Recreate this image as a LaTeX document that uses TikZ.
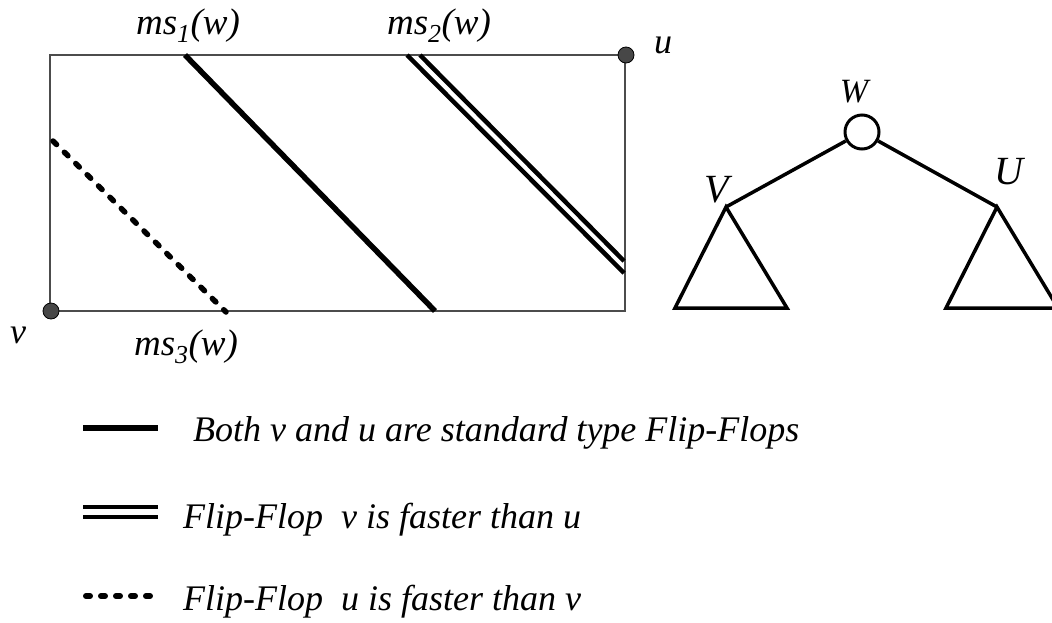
\documentclass[tikz,border=0pt]{standalone}
\usepackage{fontspec}
\setmainfont{Liberation Serif}
\begin{document}
\begin{tikzpicture}[x=1pt,y=-1pt,
  frame/.style={draw=black!70,line width=1.5},
  thickline/.style={line width=5.5},
  dblline/.style={line width=4.5},
  dotline/.style={line width=5.5,line cap=round,dash pattern=on 5 off 11},
  treeline/.style={line width=3.5},
  dotmark/.style={circle,fill=black!72,draw=black,line width=0.8,minimum size=16,inner sep=0},
  lab/.style={font=\itshape\fontsize{37}{40}\selectfont,anchor=base,inner sep=0},
  leg/.style={font=\itshape\fontsize{36}{40}\selectfont,anchor=base west,inner sep=0},
  tlab/.style={font=\itshape\fontsize{40}{42}\selectfont,inner sep=0}]
\useasboundingbox (0,0) rectangle (1052,622);
\begin{scope}
\clip (0,0) rectangle (1052,622);
% frame
\coordinate (TL) at (50,55);
\coordinate (TR) at (625,55);
\coordinate (BR) at (625,311);
\coordinate (BL) at (50,311);
\draw[frame] (TL) -- (TR) -- (BR) -- (BL) -- cycle;
% lines
\coordinate (a1) at (185,55); \coordinate (a2) at (435,311);
\draw[thickline] (a1) -- (a2);
\coordinate (b1) at (407,55); \coordinate (b2) at (624,273);
\coordinate (c1) at (420,55); \coordinate (c2) at (624,261);
\draw[dblline] (b1) -- (b2);
\draw[dblline] (c1) -- (c2);
\coordinate (d1) at (53,141); \coordinate (d2) at (226,312);
\draw[dotline] (d1) -- (d2);
% dots
\node[dotmark] (u) at (626,55) {};
\node[dotmark] (v) at (51,311) {};
% labels
\node[lab] (l1) at (188,34) {ms\textsubscript{1}(w)};
\node[lab] (l2) at (439,34) {ms\textsubscript{2}(w)};
\node[lab] (l3) at (186,355) {ms\textsubscript{3}(w)};
\node[lab,font=\itshape\fontsize{36}{38}\selectfont] (lu) at (663,53) {u};
\node[lab,font=\itshape\fontsize{36}{38}\selectfont] (lv) at (18,343) {v};
% tree
\node[circle,draw,line width=3,minimum size=34,inner sep=0] (W) at (862,132) {};
\coordinate (V) at (726,207);
\coordinate (U) at (997,207);
\coordinate (V1) at (675,308); \coordinate (V2) at (787,308);
\coordinate (U1) at (946,308); \coordinate (U2) at (1058,308);
\draw[treeline] (W) -- (V);
\draw[treeline] (W) -- (U);
\draw[treeline,line join=miter] (V) -- (V1) -- (V2) -- cycle;
\draw[treeline,line join=miter] (U) -- (U1) -- (U2) -- cycle;
\node[tlab,font=\itshape\fontsize{34}{36}\selectfont] (lW) at (854,92) {W};
\node[tlab] (lV) at (717,190) {V};
\node[tlab] (lU) at (1009,172) {U};
% legend
\coordinate (s1) at (83,428); \coordinate (s2) at (158,428);
\draw[thickline] (s1) -- (s2);
\node[leg] (t1) at (193,441) {Both v and u are standard type Flip-Flops};
\coordinate (p1) at (83,507); \coordinate (p2) at (158,507);
\coordinate (q1) at (83,517); \coordinate (q2) at (158,517);
\draw[dblline] (p1) -- (p2);
\draw[dblline] (q1) -- (q2);
\node[leg] (t2) at (183,528) {Flip-Flop\ \ v is faster than u};
\coordinate (r1) at (86,596); \coordinate (r2) at (156,596);
\draw[line width=6,line cap=round,dash pattern=on 4 off 11] (r1) -- (r2);
\node[leg] (t3) at (183,610) {Flip-Flop\ \ u is faster than v};
\end{scope}
\end{tikzpicture}
\end{document}
